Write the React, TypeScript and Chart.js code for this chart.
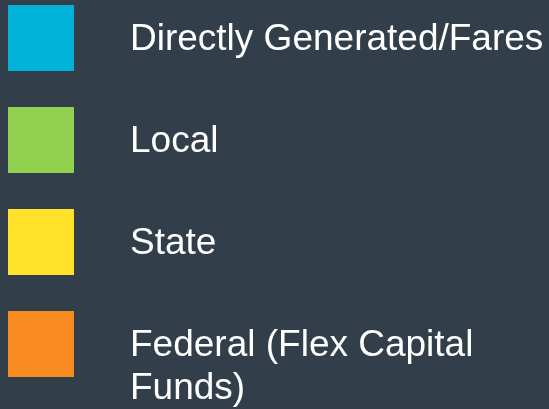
import React, { useEffect, useRef } from 'react';
import { Chart, registerables } from 'chart.js';

Chart.register(...registerables);

const categories: (string | string[])[] = [
  'Directly Generated/Fares',
  'Local',
  'State',
  ['Federal (Flex Capital', 'Funds)'],
];
const seriesColors = ['#00b2d7', '#92d050', '#ffe12a', '#f78b1f'];
const seriesValues: number[] = [];

const BG = '#323e49';
const SWATCH = 66;
const BOX_W = 103.5;
const BOX_H = 70;
const PAD = 32;
const STEP = BOX_H + PAD;

function makePattern(ctx: CanvasRenderingContext2D, color: string) {
  const tile = document.createElement('canvas');
  tile.width = 256;
  tile.height = STEP;
  const t = tile.getContext('2d')!;
  t.fillStyle = color;
  t.fillRect(PAD, PAD % STEP, SWATCH, SWATCH);
  return ctx.createPattern(tile, 'repeat');
}

export default function App() {
  const ref = useRef<HTMLCanvasElement | null>(null);
  useEffect(() => {
    if (!ref.current) return;
    document.body.style.background = BG;
    const chart = new Chart(ref.current, {
      type: 'doughnut',
      data: {
        labels: categories as any,
        datasets: [{ data: seriesValues, backgroundColor: seriesColors, borderWidth: 0 }],
      },
      options: {
        responsive: false,
        animation: false,
        events: [],
        layout: { padding: 0 },
        plugins: {
          tooltip: { enabled: false },
          legend: {
            display: true,
            position: 'left',
            align: 'start',
            maxWidth: 2000,
            labels: {
              boxWidth: BOX_W,
              boxHeight: BOX_H,
              padding: PAD,
              color: '#ffffff',
              font: { family: 'Arial, "Liberation Sans", sans-serif', size: 37, lineHeight: 1.17 },
              generateLabels: (c: any) => {
                const ctx = c.ctx as CanvasRenderingContext2D;
                return categories.map((text, i) => ({
                  text: text as any,
                  fillStyle: makePattern(ctx, seriesColors[i]) as any,
                  strokeStyle: 'rgba(0,0,0,0)',
                  lineWidth: 0,
                  fontColor: '#ffffff',
                  hidden: false,
                  index: i,
                }));
              },
            },
          },
        },
      } as any,
    });
    return () => chart.destroy();
  }, []);
  return (
    <div
      style={{
        position: 'fixed',
        left: 0,
        top: 0,
        width: 549,
        height: 409,
        overflow: 'hidden',
        background: BG,
      }}
    >
      <canvas
        ref={ref}
        width={580}
        height={560}
        style={{ position: 'absolute', left: -24, top: -27, width: 580, height: 560 }}
      />
    </div>
  );
}
